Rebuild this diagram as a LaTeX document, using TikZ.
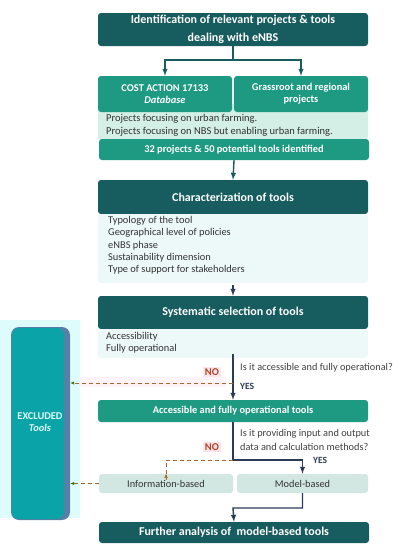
\documentclass[tikz,border=0pt]{standalone}
\usepackage{fontspec}
\setmainfont{Carlito}
\usepackage{tikz}
\usetikzlibrary{arrows.meta}
\definecolor{darkteal}{HTML}{175C5E}
\definecolor{tealgreen}{HTML}{1E9A82}
\definecolor{mint}{HTML}{D3EFE6}
\definecolor{palecyan}{HTML}{EDF8F8}
\definecolor{infogreen}{HTML}{D2E7E1}
\definecolor{navy}{HTML}{2C3B57}
\definecolor{rustbrown}{HTML}{A8662E}
\definecolor{tipgreen}{HTML}{3D7A1E}
\definecolor{notext}{HTML}{B0482A}
\definecolor{nopink}{HTML}{FDE3EC}
\definecolor{exclteal}{HTML}{0AA3A8}
\definecolor{exclblue}{HTML}{5A7FA6}
\definecolor{exclbg}{HTML}{DFFCFC}
\tikzset{
  >=latex,
}
\tikzstyle{darkbox}=[rounded corners=3pt,fill=darkteal,text=white,align=center,
  minimum width=270pt,inner sep=0pt,font=\bfseries\fontsize{12}{18}\selectfont]
\tikzstyle{tealbox}=[rounded corners=3pt,fill=tealgreen,text=white,align=center,
  inner sep=0pt,font=\bfseries\fontsize{10.4}{12}\selectfont]
\tikzstyle{listbg}=[rounded corners=3pt,minimum width=270pt,inner sep=0pt]
\tikzstyle{listtext}=[anchor=west,align=left,inner sep=0pt,text=black!80,
  font=\fontsize{10.4}{12.3}\selectfont]
\tikzstyle{outcome}=[rounded corners=3pt,fill=infogreen,text=black!80,inner sep=0pt,
  minimum height=19pt,font=\fontsize{10.3}{11}\selectfont]
\tikzstyle{flow}=[line width=1.4pt,navy,->]
\tikzstyle{reject}=[line width=1pt,rustbrown,dash pattern=on 4pt off 3pt,
  -{Latex[length=4pt,width=3.5pt,color=tipgreen]}]
\tikzstyle{question}=[anchor=west,align=left,inner sep=0pt,text=black!75,
  font=\fontsize{10.3}{14}\selectfont]
\tikzstyle{nolabel}=[fill=nopink,text=notext,inner sep=1.5pt,font=\bfseries\fontsize{10.5}{10}\selectfont]
\tikzstyle{yeslabel}=[anchor=west,inner sep=0pt,text=navy,font=\bfseries\fontsize{9.5}{10}\selectfont]

\begin{document}
\begin{tikzpicture}[x=1pt,y=-1pt]
  \useasboundingbox (0,0) rectangle (401,550);
  % excluded column
  \fill[exclbg] (0,320) rectangle (80,518);
  \node[rounded corners=8pt,fill=exclblue,minimum width=59pt,minimum height=193pt,
    path picture={\fill[exclteal,rounded corners=7pt]
      ([xshift=1pt,yshift=-1pt]path picture bounding box.north west) rectangle
      ([xshift=-6pt,yshift=1pt]path picture bounding box.south east);}]
    (excl) at (40.5,423.5) {};
  \node[text=exclbg,align=center,font=\bfseries\fontsize{10.4}{12}\selectfont]
    (excltext) at (40,422) {EXCLUDED\\\textit{Tools}};
  % identification
  \node[darkbox,minimum height=33pt] (ident) at (233,29.5)
    {Identification of relevant projects \& tools\\dealing with eNBS};
  \node[listbg,fill=mint,minimum height=36pt] (projbg) at (233,122) {};
  \node[tealbox,minimum width=134pt,minimum height=36pt] (cost) at (165,94)
    {COST ACTION 17133\\\textit{Database}};
  \node[tealbox,minimum width=134pt,minimum height=36pt] (grass) at (301,94)
    {Grassroot and regional\\projects};
  \node[listtext,font=\fontsize{10.5}{13}\selectfont] (projlist) at (106,125.5)
    {Projects focusing on urban farming.\\Projects focusing on NBS but enabling urban farming.};
  \node[tealbox,minimum width=270pt,minimum height=21pt] (found) at (234,149.5)
    {32 projects \& 50 potential tools identified};
  \coordinate (split) at (233,60);
  \draw[line width=1.4pt,darkteal] (ident.south) -- (split);
  \draw[line width=1.4pt,darkteal,->] (split) -| (cost.north);
  \draw[line width=1.4pt,darkteal,->] (split) -| (grass.north);
  % characterization
  \node[darkbox,minimum height=34pt] (charac) at (233,197) {Characterization of tools};
  \node[listbg,fill=palecyan,minimum height=69pt] (charbg) at (233,248.5) {};
  \node[listtext] (charlist) at (108,245.5)
    {Typology of the tool\\Geographical level of policies\\eNBS phase\\Sustainability dimension\\Type of support for stakeholders};
  \draw[line width=1.4pt,darkteal,->] (found.south) -- (charac.north);
  % selection
  \node[darkbox,minimum height=33pt] (select) at (233,312.5) {Systematic selection of tools};
  \node[listbg,fill=palecyan,minimum height=29pt] (selbg) at (233,343.5) {};
  \node[listtext] (sellist) at (106,343) {Accessibility\\Fully operational};
  \draw[flow] (charbg.south) ++(0,2) -- (select.north);
  % first decision
  \node[tealbox,minimum width=270pt,minimum height=22pt] (access) at (233,411)
    {Accessible and fully operational tools};
  \fill[nopink!45] (80,377) rectangle (226,387);
  \coordinate (reject1) at (233,383);
  \draw[flow] ([yshift=4pt]selbg.south) -- (access.north);
  \draw[reject] (reject1) -- (reject1 -| excl.east);
  \node[question] (ask1) at (240,368) {Is it accessible and fully operational?};
  \node[nolabel] (no1) at (212,372) {NO};
  \node[yeslabel] (yes1) at (240,386) {YES};
  % second decision
  \node[outcome,minimum width=134pt] (info) at (166,483.5) {Information-based};
  \node[outcome,minimum width=131pt] (model) at (302.5,483.5) {Model-based};
  \coordinate (fork) at (233,460);
  \draw[line width=1.4pt,navy] (access.south) -- (fork);
  \draw[flow] (fork) -| (model.north);
  \draw[line width=1pt,rustbrown,dash pattern=on 4pt off 3pt] (fork) -| ([yshift=-5pt]info.north);
  \draw[rustbrown,-{Latex[length=4pt,width=3.5pt]}] ([yshift=-6pt]info.north) -- (info.north);
  \draw[reject] (info.west) -- (info.west -| excl.east);
  \node[question] (ask2) at (240,440)
    {Is it providing input and output\\data and calculation methods?};
  \node[nolabel] (no2) at (212,447) {NO};
  \node[yeslabel] (yes2) at (313,460) {YES};
  % further analysis
  \node[darkbox,minimum height=21pt] (further) at (234,532.5)
    {Further analysis of \ model-based tools};
  \draw[flow] (model.south) |- (233,508) -- (further.north);
\end{tikzpicture}
\end{document}
